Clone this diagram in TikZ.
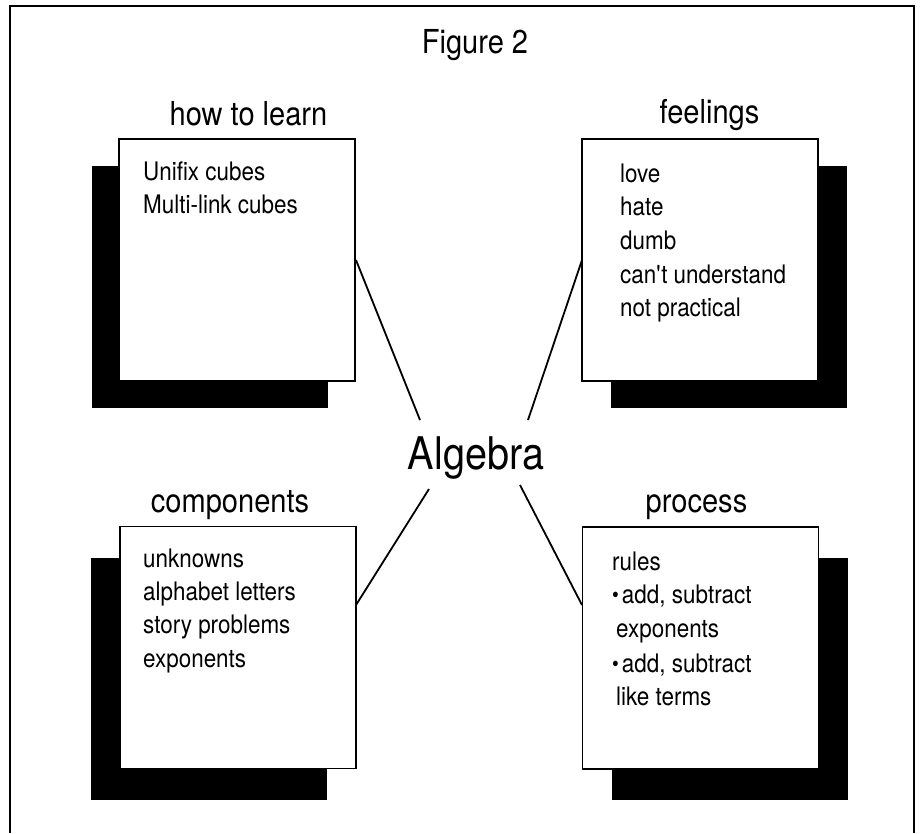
\documentclass[tikz,border=0pt]{standalone}
\usepackage{fontspec}
\setmainfont[FakeStretch=0.88]{TeX Gyre Heros}
\tikzset{
  card/.style={draw, line width=1.6pt, fill=white, minimum width=236pt, minimum height=242pt, inner sep=0pt, outer sep=0pt},
  blackcard/.style={fill=black, minimum width=236pt, minimum height=242pt, inner sep=0pt, outer sep=0pt},
  heading/.style={anchor=base, inner sep=0pt, font=\fontsize{33}{38}\selectfont},
  item/.style={anchor=base west, inner sep=0pt, font=\fontsize{25.5}{30}\selectfont},
  link/.style={line width=1.8pt},
}
\newcommand{\dotitem}{{\fontsize{22}{22}\selectfont\raisebox{1pt}{\textbullet}}\hspace{3pt}}
\begin{document}
\begin{tikzpicture}[x=1pt,y=-1pt]
  \useasboundingbox (0,0) rectangle (920,833);
  \draw[line width=1.6pt] (10,833) -- (10,6) -- (914,6) -- (914,833);
  \node[heading] (fig) at (475,53) {Figure 2};

  % shadows
  \node[blackcard] (learnsh) at (209.5,286.5) {};
  \node[blackcard] (feelsh) at (729,286.5) {};
  \node[blackcard] (compsh) at (209,679) {};
  \node[blackcard] (procsh) at (729.5,678.5) {};

  % boxes
  \node[card] (learn) at (237,260) {};
  \node[card] (feel) at (700,260) {};
  \node[card] (comp) at (238,647.5) {};
  \node[card] (proc) at (700.5,648) {};

  \node[heading] (learnhd) at (248.5,125) {how to learn};
  \node[heading] (feelhd) at (709.5,123) {feelings};
  \node[heading] (comphd) at (230,512) {components};
  \node[heading] (prochd) at (696.5,512) {process};

  \node[item] (learn1) at (143,180) {Unifix cubes};
  \node[item] (learn2) at (143,213.5) {Multi-link cubes};

  \node[item] (feel1) at (620,182) {love};
  \node[item] (feel2) at (620,215.7) {hate};
  \node[item] (feel3) at (620,249.4) {dumb};
  \node[item] (feel4) at (620,283) {can\textquotesingle t understand};
  \node[item] (feel5) at (620,316.8) {not practical};

  \node[item] (comp1) at (143,567) {unknowns};
  \node[item] (comp2) at (143,600) {alphabet letters};
  \node[item] (comp3) at (143,633.5) {story problems};
  \node[item] (comp4) at (143,667) {exponents};

  \node[item] (proc1) at (612,570) {rules};
  \node[item] (proc2) at (612,603.5) {\dotitem add, subtract};
  \node[item] (proc3) at (616,637.5) {exponents};
  \node[item] (proc4) at (612,672) {\dotitem add, subtract};
  \node[item] (proc5) at (616,705) {like terms};

  \node[anchor=base, inner sep=0pt, font=\fontsize{45}{50}\selectfont] (alg) at (476,469) {Algebra};

  % connector ends
  \coordinate (learnend) at (356,260);
  \coordinate (feelend) at (582,260);
  \coordinate (compend) at (356,605);
  \coordinate (procend) at (582,605);
  \coordinate (alg1) at (420,420);
  \coordinate (alg2) at (528,420);
  \coordinate (alg3) at (429,489);
  \coordinate (alg4) at (520,485);

  \draw[link] (learnend) -- (alg1);
  \draw[link] (feelend) -- (alg2);
  \draw[link] (compend) -- (alg3);
  \draw[link] (procend) -- (alg4);
\end{tikzpicture}
\end{document}
